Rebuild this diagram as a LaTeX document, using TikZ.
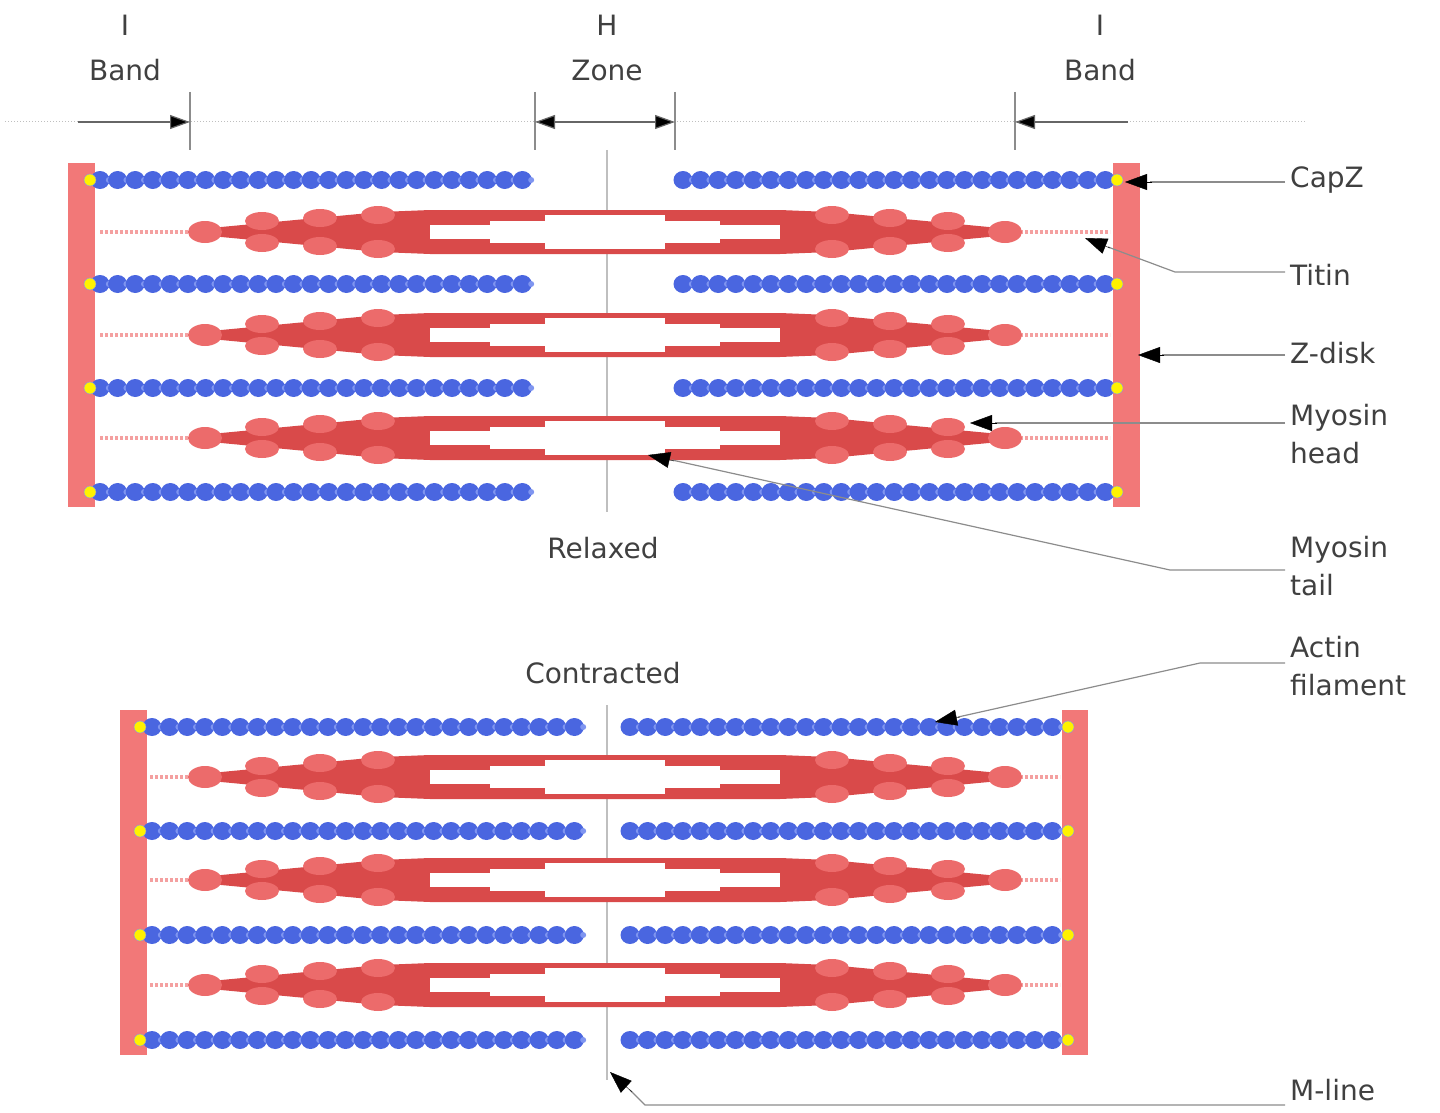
\documentclass[tikz,border=0pt]{standalone}
\usepackage{fontspec}
\setmainfont{DejaVu Sans}
\usetikzlibrary{arrows.meta}
\definecolor{actb}{HTML}{4A66E0}
\definecolor{actl}{HTML}{7F95F0}
\definecolor{zd}{HTML}{F27878}
\definecolor{myo}{HTML}{D94A4A}
\definecolor{myh}{HTML}{EC6B6B}
\definecolor{tit}{HTML}{F4A0A0}
\tikzset{
 lbl/.style={font=\fontsize{28}{38}\selectfont, text=black!75, inner sep=0pt},
 rl/.style={lbl, anchor=west, align=left},
 lead/.style={draw=black!45, line width=1.2pt},
 ar/.style={-{Triangle[length=22pt,width=16pt]}, black},
 zdisk/.style={fill=zd, draw=none},
}
\newcommand{\actin}[3]{%
 \pgfmathsetmacro{\n}{int((#2-#1)/17.6)}%
 \foreach \i in {0,...,\n} {\fill[actb] ({#1+\i*17.6},#3) ellipse (9.5 and 9);
   \fill[actl] ({#1+\i*17.6+8.8},#3) circle (3);}}
\newcommand{\myosin}[3]{% y, titin left start, titin right end
 \draw[tit, line width=4pt, dash pattern=on 3pt off 2pt] (#2,#1) -- (200,#1);
 \draw[tit, line width=4pt, dash pattern=on 3pt off 2pt] (1010,#1) -- (#3,#1);
 \begin{scope}[shift={(0,#1)}]
 \fill[myo] (200,-3) -- (380,-20) -- (430,-22) -- (780,-22) -- (830,-20) -- (1010,-3) -- (1010,3) -- (830,20) -- (780,22) -- (430,22) -- (380,20) -- (200,3) -- cycle;
 \fill[white] (430,-7) rectangle (780,7);
 \fill[white] (490,-11) rectangle (720,11);
 \fill[white] (545,-17) rectangle (665,17);
 \foreach \hx/\hd in {262/11,320/14,378/17,948/11,890/14,832/17} {
   \fill[myh] (\hx,-\hd) ellipse (17 and 9);
   \fill[myh] (\hx,\hd) ellipse (17 and 9);}
 \fill[myh] (205,0) ellipse (17 and 11);
 \fill[myh] (1005,0) ellipse (17 and 11);
 \end{scope}}
\begin{document}
\begin{tikzpicture}[x=1pt,y=-1pt]
\useasboundingbox (0,0) rectangle (1440,1113);
\node[lbl] (i1) at (125,25) {I};
\node[lbl] (b1) at (125,70) {Band};
\node[lbl] (h) at (607,25) {H};
\node[lbl] (z) at (607,70) {Zone};
\node[lbl] (i2) at (1100,25) {I};
\node[lbl] (b2) at (1100,70) {Band};
\draw[black!25, dotted, line width=1pt] (5,122) -- (1305,122);
\foreach \x in {190,535,675,1015} \draw[black!45, line width=1.2pt] (\x,92) -- (\x,150);
\coordinate (a1) at (78,122); \coordinate (a2) at (190,122);
\coordinate (a3) at (535,122); \coordinate (a4) at (675,122);
\coordinate (a5) at (1128,122); \coordinate (a6) at (1015,122);
\draw[black!60, line width=1.2pt, -{Triangle[length=20pt,width=14pt,fill=black]}] (a1) -- (a2);
\draw[black!60, line width=1.2pt, {Triangle[length=20pt,width=14pt,fill=black]}-{Triangle[length=20pt,width=14pt,fill=black]}] (a3) -- (a4);
\draw[black!60, line width=1.2pt, -{Triangle[length=20pt,width=14pt,fill=black]}] (a5) -- (a6);
% relaxed
\draw[black!25, line width=1.5pt] (607,150) -- (607,512);
\fill[zdisk] (68,163) rectangle (95,507);
\fill[zdisk] (1113,163) rectangle (1140,507);
\foreach \y in {180,284,388,492} {\actin{100}{535}{\y}\actin{683}{1110}{\y}
 \fill[yellow, draw=actl] (90,\y) circle (6); \fill[yellow, draw=actl] (1117,\y) circle (6);}
\foreach \y in {232,335,438} {\myosin{\y}{100}{1110}}
\node[lbl] (rel) at (603,548) {Relaxed};
\node[lbl] (con) at (603,673) {Contracted};
% contracted
\draw[black!25, line width=1.5pt] (607,705) -- (607,1080);
\fill[zdisk] (120,710) rectangle (147,1055);
\fill[zdisk] (1062,710) rectangle (1088,1055);
\foreach \y in {727,831,935,1040} {\actin{152}{588}{\y}\actin{630}{1060}{\y}
 \fill[yellow, draw=actl] (140,\y) circle (6); \fill[yellow, draw=actl] (1068,\y) circle (6);}
\foreach \y in {777,880,985} {\myosin{\y}{150}{1060}}
% right labels
\node[rl] (capz) at (1290,180) {CapZ};
\node[rl] (titin) at (1290,275) {Titin};
\node[rl] (zdl) at (1290,353) {Z-disk};
\node[rl] (mh) at (1290,434) {Myosin\\head};
\node[rl] (mt) at (1290,566) {Myosin\\tail};
\node[rl] (af) at (1290,666) {Actin\\filament};
\node[rl] (ml) at (1290,1090) {M-line};
\coordinate (t1) at (1125,182);
\coordinate (t2) at (1085,238);
\coordinate (t3) at (1138,355);
\coordinate (t4) at (970,423);
\coordinate (t5) at (648,455);
\coordinate (t6) at (935,722);
\coordinate (t7) at (610,1072);
\draw[lead] (1285,182) -- (1150,182); \draw[ar] (1152,182) -- (t1);
\draw[lead] (1285,272) -- (1175,272) -- (1108,247); \draw[ar] (1110,248) -- (t2);
\draw[lead] (1285,355) -- (1162,355); \draw[ar] (1164,355) -- (t3);
\draw[lead] (1285,423) -- (995,423); \draw[ar] (997,423) -- (t4);
\draw[lead] (1285,570) -- (1170,570) -- (672,460); \draw[ar] (674,461) -- (t5);
\draw[lead] (1285,663) -- (1200,663) -- (958,717); \draw[ar] (960,717) -- (t6);
\draw[lead] (1285,1105) -- (645,1105) -- (630,1090); \draw[ar] (632,1092) -- (t7);
\end{tikzpicture}
\end{document}
